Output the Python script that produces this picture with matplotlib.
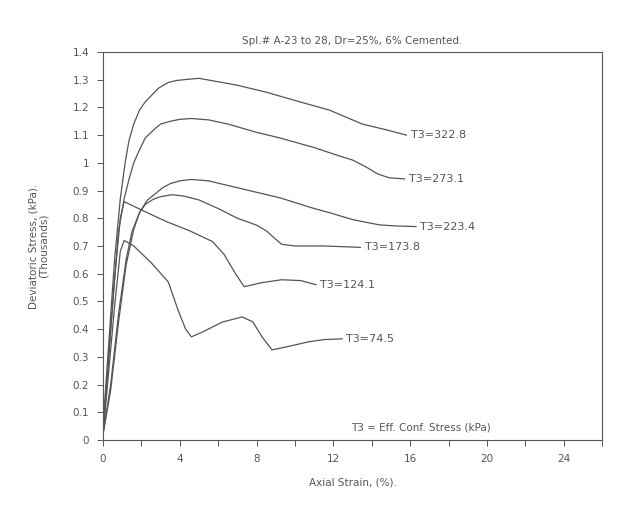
import matplotlib
matplotlib.use("Agg")
import matplotlib.pyplot as plt
from matplotlib.ticker import MultipleLocator

# =========================
# DATA
# =========================
labels = ["T3=322.8", "T3=273.1", "T3=223.4", "T3=173.8", "T3=124.1", "T3=74.5"]

strain_322 = [0, 0.3, 0.6, 0.9, 1.15, 1.35, 1.6, 1.9, 2.2, 2.55, 2.9, 3.4, 3.8, 4.2, 5.0, 6.2, 7.0, 8.5, 10.0, 11.8, 13.5, 14.7, 15.8]
stress_322 = [0.05, 0.35, 0.65, 0.87, 1.0, 1.08, 1.14, 1.19, 1.22, 1.245, 1.27, 1.29, 1.297, 1.30, 1.305, 1.29, 1.28, 1.255, 1.225, 1.19, 1.14, 1.12, 1.10]

strain_273 = [0, 0.4, 0.8, 1.1, 1.35, 1.6, 1.9, 2.2, 2.75, 3.0, 3.5, 4.0, 4.6, 5.5, 6.5, 8.0, 9.2, 11.0, 12.3, 13.0, 13.7, 14.3, 14.9, 15.7]
stress_273 = [0.03, 0.4, 0.75, 0.87, 0.94, 1.0, 1.047, 1.09, 1.126, 1.14, 1.15, 1.157, 1.16, 1.155, 1.14, 1.11, 1.09, 1.055, 1.025, 1.01, 0.985, 0.96, 0.946, 0.942]

strain_223 = [0, 0.4, 0.8, 1.2, 1.5, 1.9, 2.3, 2.75, 3.1, 3.5, 4.0, 4.6, 5.5, 7.0, 9.2, 11.0, 11.8, 13.0, 14.4, 15.3, 16.3]
stress_223 = [0.02, 0.2, 0.45, 0.65, 0.75, 0.82, 0.865, 0.89, 0.91, 0.925, 0.935, 0.94, 0.935, 0.91, 0.874, 0.835, 0.82, 0.795, 0.776, 0.772, 0.77]

strain_173 = [0, 0.4, 0.8, 1.2, 1.6, 1.9, 2.2, 2.6, 3.0, 3.6, 4.2, 5.0, 6.0, 7.0, 8.0, 8.5, 8.9, 9.3, 10.0, 11.5, 13.4]
stress_173 = [0.02, 0.18, 0.42, 0.63, 0.76, 0.82, 0.85, 0.868, 0.878, 0.885, 0.88, 0.866, 0.835, 0.80, 0.775, 0.755, 0.73, 0.706, 0.70, 0.70, 0.695]

strain_124 = [0, 0.3, 0.6, 0.9, 1.1, 2.0, 3.3, 4.5, 5.7, 6.3, 6.9, 7.35, 8.3, 9.3, 10.3, 11.1]
stress_124 = [0.02, 0.3, 0.58, 0.8, 0.86, 0.83, 0.788, 0.755, 0.716, 0.67, 0.60, 0.553, 0.568, 0.578, 0.575, 0.56]

strain_74 = [0, 0.3, 0.6, 0.9, 1.1, 1.6, 2.5, 3.4, 3.9, 4.3, 4.6, 5.2, 6.2, 7.25, 7.8, 8.3, 8.8, 9.5, 10.7, 11.5, 12.45]
stress_74 = [0.02, 0.25, 0.48, 0.68, 0.72, 0.70, 0.64, 0.57, 0.47, 0.40, 0.372, 0.39, 0.425, 0.444, 0.426, 0.37, 0.325, 0.335, 0.354, 0.362, 0.365]

curves = [
    (strain_322, stress_322),
    (strain_273, stress_273),
    (strain_223, stress_223),
    (strain_173, stress_173),
    (strain_124, stress_124),
    (strain_74, stress_74),
]

INK = "#555555"
FONT = 7.5

# =========================
# PLOT
# =========================
fig = plt.figure(figsize=(6.32, 5.2), dpi=100)
ax = fig.add_axes([0.163, 0.154, 0.79, 0.746])

for (xs, ys), lab in zip(curves, labels):
    ax.plot(xs, ys, color=INK, lw=0.9)
    ax.annotate(lab, (xs[-1], ys[-1]), xytext=(3, 0), textcoords="offset points",
                ha="left", va="center", fontsize=FONT + 0.5, color=INK)

ax.text(12.9, 0.045, "T3 = Eff. Conf. Stress (kPa)", fontsize=FONT, color=INK,
        ha="left", va="center")

ax.set_xlim(0, 26)
ax.set_ylim(0, 1.4)
ax.xaxis.set_major_locator(MultipleLocator(2))
ax.yaxis.set_major_locator(MultipleLocator(0.1))
ax.set_xticklabels([str(int(v)) if int(round(v)) % 4 == 0 and v < 25 else ""
                    for v in ax.get_xticks()])
ax.yaxis.set_major_formatter(plt.FuncFormatter(lambda v, p: f"{v:g}" if abs(v - round(v)) > 1e-6 else f"{int(round(v))}"))

ax.tick_params(axis="both", direction="out", length=4, width=0.7, color=INK,
               labelsize=FONT, labelcolor=INK, pad=6)
for sp in ax.spines.values():
    sp.set_color(INK)
    sp.set_linewidth(0.8)

ax.set_title("Spl.# A-23 to 28, Dr=25%, 6% Cemented.", fontsize=FONT, color=INK, pad=6)
ax.set_xlabel("Axial Strain, (%).", fontsize=FONT, color=INK, labelpad=10)
ax.set_ylabel("Deviatoric Stress, (kPa).\n(Thousands)", fontsize=FONT, color=INK,
              labelpad=17, linespacing=1.0)

fig.savefig("out.png", dpi=100, facecolor="white")
